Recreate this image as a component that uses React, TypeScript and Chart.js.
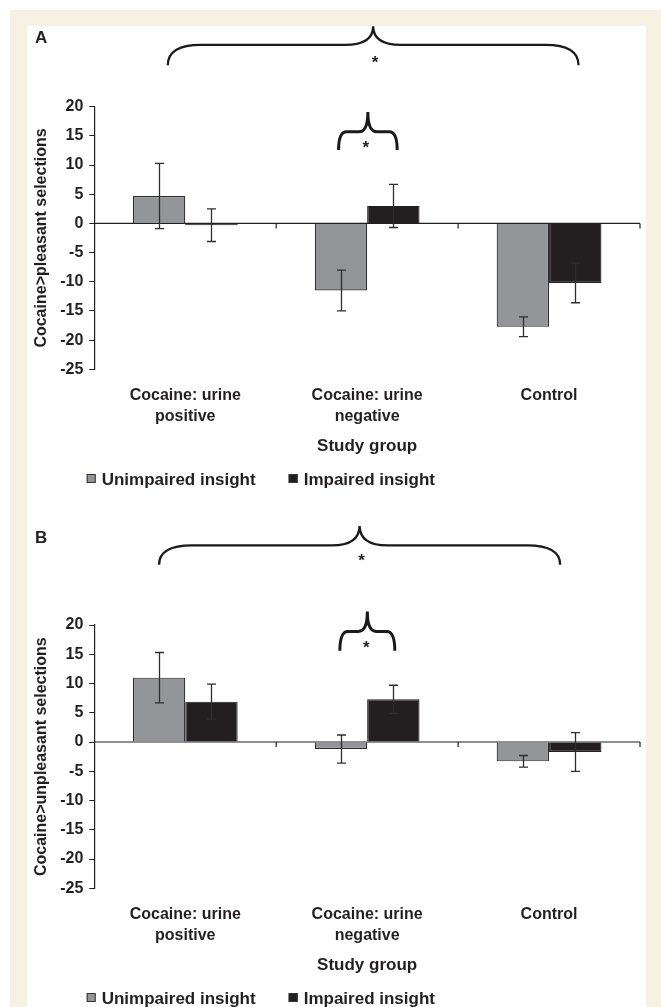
import React, { useEffect, useRef } from "react";
import { Chart, registerables } from "chart.js";

Chart.register(...registerables);

// ---------------- data ----------------
const categories = [["Cocaine: urine", "positive"], ["Cocaine: urine", "negative"], ["Control"]];
const seriesNames = ["Unimpaired insight", "Impaired insight"];
const yMin = -25;
const yMax = 20;
const yStep = 5;

// Panel A: Cocaine > pleasant selections (means and error half-widths)
const pleasantUnimpaired = [4.7, -11.5, -17.7];
const pleasantUnimpairedErr = [5.6, 3.5, 1.7];
const pleasantImpaired = [-0.3, 3.0, -10.2];
const pleasantImpairedErr = [2.8, 3.7, 3.4];

// Panel B: Cocaine > unpleasant selections
const unpleasantUnimpaired = [11.0, -1.2, -3.3];
const unpleasantUnimpairedErr = [4.3, 2.4, 1.0];
const unpleasantImpaired = [6.9, 7.3, -1.7];
const unpleasantImpairedErr = [3.0, 2.4, 3.3];

// ---------------- styles / layout ----------------
const INK = "#231f20";
const GRAY = "#939598";
const FONT = '"Liberation Sans", Arial, Helvetica, sans-serif';
const CANVAS_W = 619;
const CANVAS_H = 500;

type Brace = {
  from: number; to: number; // category-index units
  peak: number; line: number; end: number; star: number; // y values
  starShift: number; corner: number; cusp: number; lw: number;
};

type Panel = {
  letter: string;
  yTitle: string;
  unimpaired: number[];
  impaired: number[];
  errs: number[][];
  padTop: number;
  padBottom: number;
  braces: Brace[];
};

const panelA: Panel = {
  letter: "A",
  yTitle: "Cocaine>pleasant selections",
  unimpaired: pleasantUnimpaired,
  impaired: pleasantImpaired,
  errs: [pleasantUnimpairedErr, pleasantImpairedErr],
  padTop: 80.7,
  padBottom: 69.3,
  braces: [
    { from: -0.096, to: 2.162, peak: 33.8, line: 30.6, end: 27.1, star: 27.8, starShift: 2, corner: 33, cusp: 28, lw: 2.3 },
    { from: 0.843, to: 1.165, peak: 19.1, line: 15.7, end: 12.6, star: 13.2, starShift: -2, corner: 8, cusp: 9, lw: 3 },
  ],
};

const panelB: Panel = {
  letter: "B",
  yTitle: "Cocaine>unpleasant selections",
  unimpaired: unpleasantUnimpaired,
  impaired: unpleasantImpaired,
  errs: [unpleasantUnimpairedErr, unpleasantImpairedErr],
  padTop: 99,
  padBottom: 50.3,
  braces: [
    { from: -0.144, to: 2.061, peak: 37.0, line: 33.6, end: 30.3, star: 31.2, starShift: 2, corner: 33, cusp: 28, lw: 2.3 },
    { from: 0.85, to: 1.152, peak: 22.3, line: 18.9, end: 15.6, star: 16.4, starShift: -1, corner: 8, cusp: 9, lw: 3 },
  ],
};

function makePlugin(p: Panel) {
  return {
    id: "panelDecor" + p.letter,
    beforeDatasetsDraw(chart: any) {
      const { ctx, chartArea, scales } = chart;
      const xs = scales.x;
      const ys = scales.y;
      const y0 = ys.getPixelForValue(0);
      ctx.save();
      ctx.strokeStyle = INK;
      ctx.lineWidth = 1.2;
      ctx.beginPath();
      ctx.moveTo(chartArea.left, y0);
      ctx.lineTo(chartArea.right, y0);
      for (let i = 0; i < categories.length; i++) {
        const bx = xs.getPixelForValue(i + 0.5);
        ctx.moveTo(bx, y0);
        ctx.lineTo(bx, y0 + 5);
      }
      ctx.stroke();
      ctx.restore();
    },
    afterDatasetsDraw(chart: any) {
      const { ctx, scales } = chart;
      const xs = scales.x;
      const ys = scales.y;
      ctx.save();
      // error bars
      ctx.strokeStyle = "#2e2e2e";
      ctx.lineWidth = 1.3;
      ctx.beginPath();
      p.errs.forEach((errs, di) => {
        const meta = chart.getDatasetMeta(di);
        const vals = chart.data.datasets[di].data as number[];
        meta.data.forEach((bar: any, i: number) => {
          const v = vals[i];
          const e = errs[i];
          const x = Math.round(bar.x) + 0.5;
          const yt = ys.getPixelForValue(v + e);
          const yb = ys.getPixelForValue(v - e);
          ctx.moveTo(x, yt);
          ctx.lineTo(x, yb);
          ctx.moveTo(x - 4.5, yt);
          ctx.lineTo(x + 4.5, yt);
          ctx.moveTo(x - 4.5, yb);
          ctx.lineTo(x + 4.5, yb);
        });
      });
      ctx.stroke();

      // significance braces
      ctx.strokeStyle = "#1a1a1a";
      ctx.fillStyle = INK;
      ctx.lineCap = "butt";
      p.braces.forEach((b) => {
        const x0 = xs.getPixelForValue(b.from);
        const x1 = xs.getPixelForValue(b.to);
        const xc = (x0 + x1) / 2;
        const yP = ys.getPixelForValue(b.peak);
        const yL = ys.getPixelForValue(b.line);
        const yE = ys.getPixelForValue(b.end);
        ctx.lineWidth = b.lw;
        ctx.beginPath();
        ctx.moveTo(x0, yE);
        ctx.quadraticCurveTo(x0, yL, x0 + b.corner, yL);
        ctx.lineTo(xc - b.cusp, yL);
        ctx.quadraticCurveTo(xc, yL, xc, yP);
        ctx.quadraticCurveTo(xc, yL, xc + b.cusp, yL);
        ctx.lineTo(x1 - b.corner, yL);
        ctx.quadraticCurveTo(x1, yL, x1, yE);
        ctx.stroke();
        ctx.font = `bold 17px ${FONT}`;
        ctx.textAlign = "center";
        ctx.textBaseline = "middle";
        ctx.fillText("*", xc + b.starShift, ys.getPixelForValue(b.star) + 2);
      });
      ctx.restore();
    },
    afterDraw(chart: any) {
      const { ctx, chartArea } = chart;
      ctx.save();
      // panel letter
      ctx.fillStyle = INK;
      ctx.font = `bold 17px ${FONT}`;
      ctx.textAlign = "left";
      ctx.textBaseline = "middle";
      ctx.fillText(p.letter, 8, 12.5);
      // legend
      const ly = chartArea.bottom + 110.7;
      let lx = 59.7;
      ctx.font = `bold 17px ${FONT}`;
      chart.data.datasets.forEach((ds: any) => {
        ctx.fillStyle = ds.backgroundColor;
        ctx.fillRect(lx, ly - 6, 9, 9);
        ctx.strokeStyle = "#333";
        ctx.lineWidth = 1;
        ctx.strokeRect(lx + 0.5, ly - 5.5, 8, 8);
        ctx.fillStyle = INK;
        ctx.fillText(ds.label, lx + 15, ly);
        lx += 15 + ctx.measureText(ds.label).width + 33;
      });
      ctx.restore();
    },
  };
}

function PanelChart({ panel, top }: { panel: Panel; top: number }) {
  const ref = useRef<HTMLCanvasElement | null>(null);
  useEffect(() => {
    if (!ref.current) return;
    const chart = new Chart(ref.current, {
      type: "bar",
      data: {
        labels: categories as any,
        datasets: [
          {
            label: seriesNames[0],
            data: panel.unimpaired,
            backgroundColor: GRAY,
            borderColor: "#2b2b2b",
            borderWidth: 1.2,
            categoryPercentage: 0.576,
            barPercentage: 1,
          },
          {
            label: seriesNames[1],
            data: panel.impaired,
            backgroundColor: INK,
            borderColor: INK,
            borderWidth: 1.2,
            categoryPercentage: 0.576,
            barPercentage: 1,
          },
        ],
      },
      options: {
        responsive: false,
        animation: false,
        devicePixelRatio: 1,
        layout: { padding: { top: panel.padTop, right: 6, bottom: panel.padBottom, left: 0 } },
        plugins: {
          legend: { display: false },
          tooltip: { enabled: false },
        },
        scales: {
          x: {
            grid: { display: false, drawTicks: false, tickLength: 0 },
            border: { display: false },
            ticks: {
              color: INK,
              font: { family: FONT, size: 16, weight: "bold", lineHeight: 1.35 },
              padding: 15,
              maxRotation: 0,
              autoSkip: false,
            },
            title: {
              display: true,
              text: "Study group",
              color: INK,
              font: { family: FONT, size: 17, weight: "bold", lineHeight: 1.2 },
              padding: { top: 10, bottom: 0 },
            },
            afterFit: (s: any) => {
              s.height = 87.4;
            },
          },
          y: {
            min: yMin,
            max: yMax,
            ticks: {
              stepSize: yStep,
              color: INK,
              font: { family: FONT, size: 16, weight: "bold" },
              padding: 6,
            },
            grid: { drawOnChartArea: false, drawTicks: true, tickLength: 5, color: INK, lineWidth: 1 },
            border: { display: true, color: INK, width: 1.2 },
            title: {
              display: true,
              text: panel.yTitle,
              color: INK,
              font: { family: FONT, size: 16, weight: "bold", lineHeight: 1.2 },
              padding: { top: 5, bottom: 0 },
            },
            afterFit: (s: any) => {
              s.width = 67.3;
            },
          },
        },
      } as any,
      plugins: [makePlugin(panel)],
    });
    return () => chart.destroy();
  }, [panel]);
  return (
    <canvas
      ref={ref}
      width={CANVAS_W}
      height={CANVAS_H}
      style={{ position: "absolute", left: 27, top, width: CANVAS_W, height: CANVAS_H, display: "block" }}
    />
  );
}

export default function App() {
  return (
    <div style={{ position: "absolute", left: 0, top: 0, width: 661, height: 1007, overflow: "hidden", background: "#ffffff" }}>
      <div style={{ position: "absolute", left: 10, top: 10, width: 651, height: 997, background: "#f5f1e3" }} />
      <div style={{ position: "absolute", left: 27, top: 26, width: 619, height: 981, background: "#ffffff" }} />
      <PanelChart panel={panelA} top={26} />
      <PanelChart panel={panelB} top={526} />
    </div>
  );
}
